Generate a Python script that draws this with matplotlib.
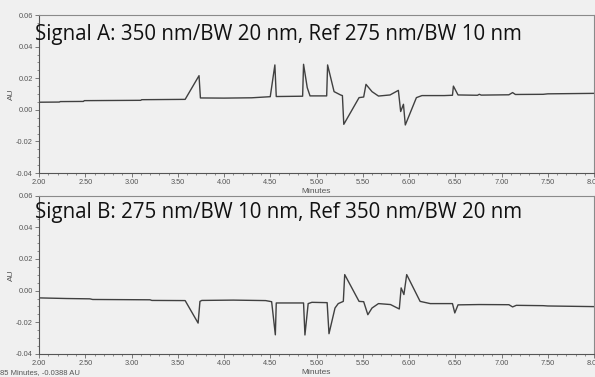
import matplotlib
matplotlib.use("Agg")
import matplotlib.pyplot as plt
from matplotlib.ticker import MultipleLocator, FormatStrFormatter

# ---- data ----
time_a = [2.00, 2.22, 2.23, 2.48, 2.49, 3.10, 3.11, 3.58, 3.73, 3.745, 4.00, 4.30,
          4.50, 4.55, 4.565, 4.85, 4.86, 4.90, 4.93, 5.11, 5.12, 5.19, 5.26, 5.28,
          5.295, 5.46, 5.51, 5.535, 5.60, 5.67, 5.795, 5.885, 5.91, 5.94, 5.96,
          6.08, 6.14, 6.38, 6.47, 6.48, 6.53, 6.74, 6.76, 6.78, 7.08, 7.12, 7.15,
          7.45, 7.50, 8.00]
au_a = [0.0048, 0.0049, 0.0052, 0.0053, 0.0058, 0.0060, 0.0064, 0.0066, 0.0216, 0.0075,
        0.0074, 0.0076, 0.0083, 0.0284, 0.0084, 0.0086, 0.0288, 0.0140, 0.0088, 0.0088,
        0.0284, 0.0115, 0.0094, 0.0090, -0.0092, 0.0077, 0.0081, 0.0161, 0.0115, 0.0087,
        0.0094, 0.0123, -0.0011, 0.0035, -0.0096, 0.0077, 0.0090, 0.0090, 0.0092, 0.0150,
        0.0094, 0.0092, 0.0098, 0.0093, 0.0095, 0.0109, 0.0097, 0.0098, 0.0101, 0.0104]

time_b = [2.00, 2.30, 2.55, 2.58, 3.20, 3.22, 3.58, 3.72, 3.74, 3.76, 4.10, 4.45,
          4.515, 4.555, 4.565, 4.86, 4.875, 4.91, 4.95, 5.115, 5.135, 5.20, 5.235,
          5.29, 5.305, 5.46, 5.51, 5.555, 5.60, 5.67, 5.80, 5.895, 5.915, 5.945,
          5.975, 6.12, 6.23, 6.47, 6.495, 6.53, 6.76, 7.08, 7.12, 7.16, 7.45, 7.50, 8.00]
au_b = [-0.0046, -0.0050, -0.0052, -0.0056, -0.0058, -0.0062, -0.0063, -0.0205, -0.0068,
        -0.0062, -0.0060, -0.0063, -0.0070, -0.0279, -0.0078, -0.0078, -0.0280, -0.0082,
        -0.0074, -0.0076, -0.0272, -0.0110, -0.0082, -0.0068, 0.0101, -0.0068, -0.0070,
        -0.0152, -0.0110, -0.0082, -0.0088, -0.0116, 0.0017, -0.0025, 0.0101, -0.0068,
        -0.0082, -0.0082, -0.0141, -0.0090, -0.0088, -0.0089, -0.0103, -0.0093, -0.0095,
        -0.0097, -0.0101]

titles = ["Signal A: 350 nm/BW 20 nm, Ref 275 nm/BW 10 nm",
          "Signal B: 275 nm/BW 10 nm, Ref 350 nm/BW 20 nm"]
status_text = "85 Minutes, -0.0388 AU"

# ---- figure ----
W, H = 595, 377
fig = plt.figure(figsize=(W / 100, H / 100), dpi=100)
bg = "#f0f0f0"
fig.patch.set_facecolor(bg)

left = 39 / W
width = 555 / W
ax_top = fig.add_axes([left, 1 - 173 / H, width, 158 / H])
ax_bot = fig.add_axes([left, 1 - 354 / H, width, 158.5 / H])
ax_top.set_zorder(1)
ax_bot.set_zorder(2)

title_baselines = [40, 218]
for ax, t, a, title, yb in [(ax_top, time_a, au_a, titles[0], title_baselines[0]),
                            (ax_bot, time_b, au_b, titles[1], title_baselines[1])]:
    ax.set_facecolor(bg)
    ax.plot(t, a, color="#404040", lw=1.0)
    ax.set_xlim(2.0, 8.0)
    ax.set_ylim(-0.04, 0.06)
    ax.xaxis.set_major_locator(MultipleLocator(0.5))
    ax.xaxis.set_minor_locator(MultipleLocator(0.1))
    ax.yaxis.set_major_locator(MultipleLocator(0.02))
    ax.yaxis.set_minor_locator(MultipleLocator(0.005))
    ax.xaxis.set_major_formatter(FormatStrFormatter("%.2f"))
    ax.yaxis.set_major_formatter(FormatStrFormatter("%.2f"))
    ax.tick_params(which="major", length=3, width=0.6, color="#666666",
                   labelcolor="#555555", pad=1.5)
    ax.tick_params(which="minor", length=1.6, width=0.5, color="#666666")
    for lab in ax.get_xticklabels() + ax.get_yticklabels():
        lab.set_fontfamily("Liberation Sans")
        lab.set_fontsize(5.3)
    for s in ax.spines.values():
        s.set_color("#8a8a8a")
        s.set_linewidth(0.8)
    ax.spines["left"].set_color("#555555")
    ax.spines["bottom"].set_color("#555555")
    ax.set_ylabel("AU", fontsize=6, color="#555555", family="Liberation Sans", labelpad=1)
    ax.set_xlabel("Minutes", fontsize=6, color="#555555", family="Liberation Sans", labelpad=1)
    fig.text(35 / W, 1 - yb / H, title, fontsize=14.8, family="Open Sans",
             color="#111111", va="baseline", zorder=5)

fig.text(0.5 / W, 1 - 374 / H, status_text, fontsize=5.5, color="#555555",
         family="Liberation Sans", va="baseline")

fig.savefig("out.png", dpi=100, facecolor=bg)
